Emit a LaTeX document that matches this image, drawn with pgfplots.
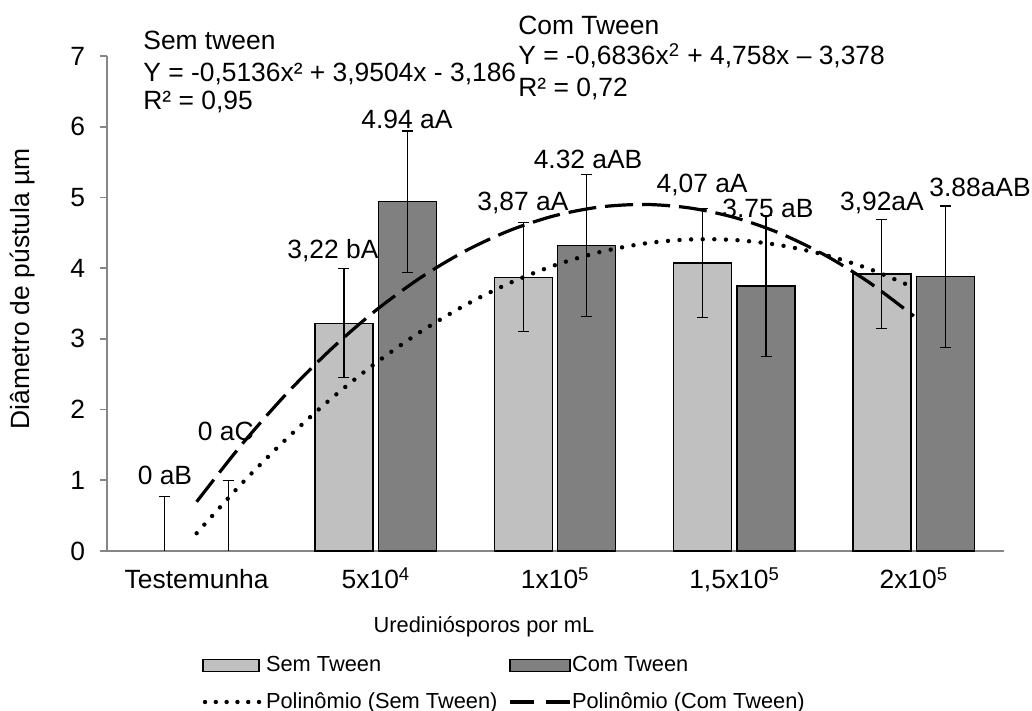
\documentclass[border=0pt]{standalone}
\usepackage{fontspec}
\setmainfont{Liberation Sans}
\usepackage{pgfplots}
\pgfplotsset{compat=1.18}
\definecolor{barlight}{HTML}{C0C0C0}
\definecolor{bardark}{HTML}{808080}
\definecolor{axgray}{HTML}{868686}
\newcommand{\fA}{\fontsize{13.2}{15.8}\selectfont}
\newcommand{\fB}{\fontsize{10.9}{13}\selectfont}
\begin{document}
\begin{tikzpicture}
\useasboundingbox (0,0) rectangle (516pt,355.5pt);
\begin{axis}[
  at={(53.5pt,80pt)}, anchor=south west,
  scale only axis, width=448.25pt, height=247.5pt,
  xmin=-0.5, xmax=4.5, ymin=0, ymax=7,
  axis x line*=bottom, axis y line*=left,
  axis line style={axgray, line width=0.9pt},
  xtick={0,1,2,3,4},
  xticklabels={Testemunha, 5x10\textsuperscript{4}, 1x10\textsuperscript{5}, {1,5x10\textsuperscript{5}}, 2x10\textsuperscript{5}},
  ytick={0,1,...,7},
  tick align=outside, major tick length=3.5pt,
  xtick style={draw=none},
  ytick style={axgray, line width=0.9pt},
  tick label style={font=\fA},
  xticklabel style={anchor=base, yshift=-15.5pt},
  yticklabel style={xshift=-4pt},
  /pgf/number format/assume math mode=true,
  clip=false,
  legend columns=2,
  legend cell align=left,
  legend style={at={(0.106,-0.212)}, anchor=north west, draw=none, fill=none,
    inner sep=0pt, font=\fB, row sep=9pt,
    nodes={inner sep=0pt},
    /tikz/every even column/.append style={column sep=5.5pt}},
  error bars/error bar style={black, line width=0.6pt},
  error bars/error mark options={rotate=90, mark size=2.75pt, black, line width=0.6pt},
]
% Sem Tween bars
\addplot[ybar, bar width=29pt, bar shift=-16pt, fill=barlight, draw=black, line width=0.7pt,
  legend image code/.code={\draw[fill=barlight, draw=black, line width=0.6pt] (0pt,-3pt) rectangle (28pt,3pt); \path[draw=none, fill=none] (0pt,0pt) -- (31.5pt,0pt);}]
  coordinates {(1,3.22) (2,3.87) (3,4.07) (4,3.92)};
\addlegendentry{Sem Tween}
% Com Tween bars
\addplot[ybar, bar width=29pt, bar shift=15.75pt, fill=bardark, draw=black, line width=0.7pt,
  legend image code/.code={\draw[fill=bardark, draw=black, line width=0.6pt] (0pt,-3pt) rectangle (30pt,3pt); \path[draw=none, fill=none] (0pt,0pt) -- (31pt,0pt);}]
  coordinates {(1,4.94) (2,4.32) (3,3.75) (4,3.88)};
\addlegendentry{Com Tween}
% Polynomial trend (Sem Tween)
\addplot[black, line width=2.2pt, line cap=round, dash pattern=on 0pt off 5.8pt, smooth, no marks,
  legend image code/.code={\draw[black, line width=2.2pt, line cap=round, dash pattern=on 0pt off 5.4pt] (1pt,0pt) -- (28pt,0pt); \path[draw=none, fill=none] (0pt,0pt) -- (31.5pt,0pt);}]
  coordinates {(0,0.251) (0.25,0.950) (0.5,1.584) (0.75,2.154) (1,2.660) (1.25,3.102) (1.5,3.480) (1.75,3.794) (2,4.043) (2.25,4.228) (2.5,4.349) (2.75,4.406) (3,4.398) (3.25,4.326) (3.5,4.190) (3.75,3.990) (4,3.726)};
\addlegendentry{Polinômio (Sem Tween)}
% Polynomial trend (Com Tween)
\addplot[black, line width=1.6pt, dash pattern=on 14pt off 4.5pt, smooth, no marks,
  legend image code/.code={\draw[black, line width=1.6pt, dash pattern=on 12pt off 6pt] (0pt,0pt) -- (30pt,0pt); \path[draw=none, fill=none] (0pt,0pt) -- (31pt,0pt);}]
  coordinates {(0,0.696) (0.25,1.501) (0.5,2.221) (0.75,2.855) (1,3.404) (1.25,3.867) (1.5,4.245) (1.75,4.537) (2,4.744) (2.25,4.865) (2.5,4.901) (2.75,4.851) (3,4.716) (3.25,4.496) (3.5,4.190) (3.75,3.799) (4,3.322)};
\addlegendentry{Polinômio (Com Tween)}
% error bars (at bar centres)
\addplot[forget plot, draw=none, no marks,
  error bars/.cd, y dir=both, y explicit]
  coordinates {(0.8215,3.22) +- (0,0.77) (1.8215,3.87) +- (0,0.77) (2.8215,4.07) +- (0,0.77) (3.8215,3.92) +- (0,0.77)};
\addplot[forget plot, draw=none, no marks,
  error bars/.cd, y dir=both, y explicit]
  coordinates {(1.1757,4.94) +- (0,1.0) (2.1757,4.32) +- (0,1.0) (3.1757,3.75) +- (0,1.0) (4.1757,3.88) +- (0,1.0)};
% Testemunha error bars (value 0, upward only)
\addplot[forget plot, draw=none, no marks,
  error bars/.cd, y dir=plus, y explicit]
  coordinates {(-0.1785,0) += (0,0.77) (0.1757,0) += (0,1.0)};
% data labels
\begin{scope}[every node/.style={font=\fA, inner sep=0pt, text depth=0pt}]
\node at (axis cs:-0.177,1.075) {0 aB};
\node at (axis cs:0.163,1.70) {0 aC};
\node at (axis cs:0.760,4.27) {3,22 bA};
\node at (axis cs:1.173,6.11) {4.94 aA};
\node at (axis cs:1.82,4.94) {3,87 aA};
\node at (axis cs:2.183,5.545) {4.32 aAB};
\node at (axis cs:2.819,5.205) {4,07 aA};
\node at (axis cs:3.186,4.85) {3.75 aB};
\node at (axis cs:3.822,4.94) {3,92aA};
\node at (axis cs:4.369,5.15) {3.88aAB};
\end{scope}
\end{axis}
% equations
\begin{scope}[every node/.style={font=\fA, inner sep=0pt, anchor=base west}]
\node at (71.5pt,330.5pt) {Sem tween};
\node at (71.5pt,314.7pt) {Y = -0,5136x² + 3,9504x - 3,186};
\node at (71.5pt,300.5pt) {R² = 0,95};
\node at (259pt,338pt) {Com Tween};
\node at (259pt,323pt) {Y = -0,6836x\textsuperscript{2} + 4,758x – 3,378};
\node at (259pt,307.2pt) {R² = 0,72};
\end{scope}
% axis titles
\node[font=\fA, rotate=90, inner sep=0pt] at (11.5pt,211pt) {Diâmetro de pústula µm};
\node[font=\fB, inner sep=0pt] at (242pt,42pt) {Urediniósporos por mL};
\end{tikzpicture}
\end{document}
